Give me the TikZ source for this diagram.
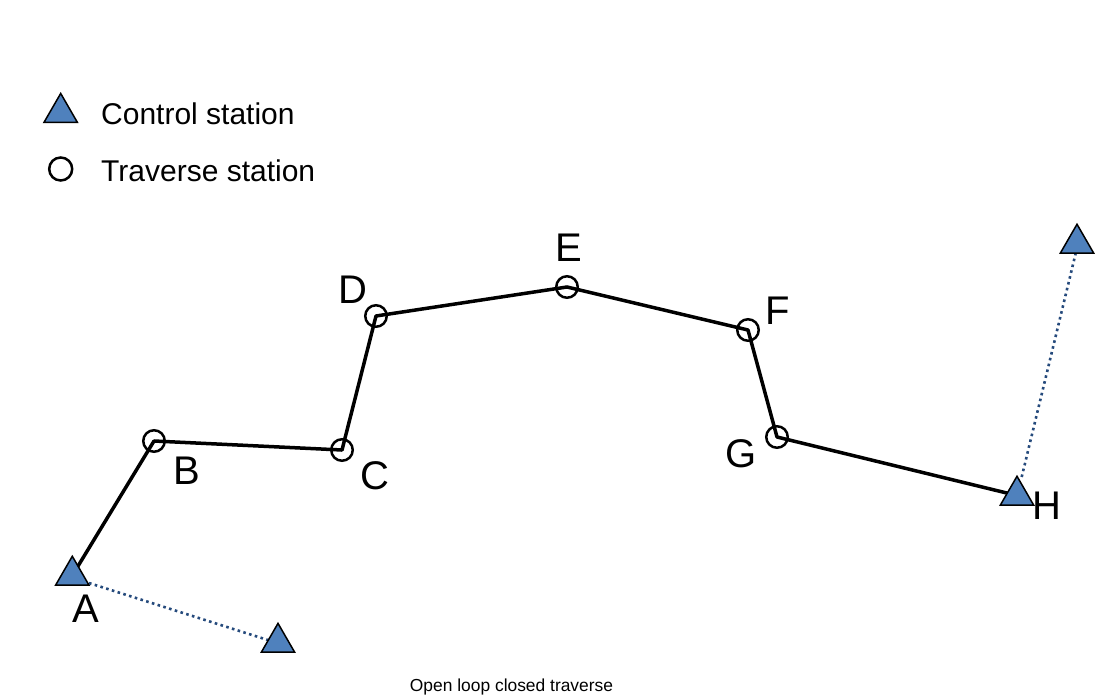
\documentclass[tikz,border=0pt]{standalone}
\usepackage{fontspec}
\setmainfont{Liberation Sans}
\usetikzlibrary{shapes.geometric}
\definecolor{triblue}{HTML}{4F81BD}
\definecolor{dotblue}{HTML}{254A7C}
\tikzset{
  control/.style={regular polygon,regular polygon sides=3,minimum size=38.5pt,inner sep=0pt,outer sep=0pt,draw=black,fill=triblue,line width=1.5pt,line join=miter},
  traverse/.style={circle,minimum size=21.5pt,inner sep=0pt,outer sep=0pt,draw=black,line width=2.5pt},
  leg/.style={line width=3.5pt,draw=black,line cap=round},
  sight/.style={draw=dotblue,line width=2.6pt,line cap=butt,dash pattern=on 2.6pt off 3.4pt},
  lab/.style={font=\fontsize{40}{44}\selectfont,anchor=base,inner sep=0pt,text=black},
  legtext/.style={font=\fontsize{30}{34}\selectfont,anchor=base west,inner sep=0pt,text=black},
  capt/.style={font=\fontsize{17.4}{20}\selectfont,anchor=base,inner sep=0pt,text=black}
}
\begin{document}
\begin{tikzpicture}[x=1pt,y=-1pt]
\useasboundingbox (0,0) rectangle (1114,698);
\coordinate (a) at (72.3,575.5);
\coordinate (b) at (154,441);
\coordinate (c) at (342,450);
\coordinate (d) at (376,316);
\coordinate (e) at (567,287);
\coordinate (f) at (748,330);
\coordinate (g) at (777,437);
\coordinate (h) at (1017,495.5);
\coordinate (aend) at (271,641);
\coordinate (tend) at (1076,252);
\coordinate (astart) at (89,583);
\coordinate (hstart) at (1021.7,477);
\draw[leg] (a) -- (b);
\draw[leg] (b) -- (c);
\draw[leg] (c) -- (d);
\draw[leg] (d) -- (e);
\draw[leg] (e) -- (f);
\draw[leg] (f) -- (g);
\draw[leg] (g) -- (h);
\draw[sight] (astart) -- (aend);
\draw[sight] (hstart) -- (tend);
\node[control] (ta) at (a) {};
\node[control] (tb) at (278,642.6) {};
\node[control] (th) at (h) {};
\node[control] (tt) at (1077,243.5) {};
\node[control] (tl) at (60.7,112.7) {};
\node[traverse] (nb) at (b) {};
\node[traverse] (nc) at (c) {};
\node[traverse] (nd) at (d) {};
\node[traverse] (ne) at (e) {};
\node[traverse] (nf) at (f) {};
\node[traverse] (ng) at (g) {};
\node[traverse,minimum size=23pt] (nl) at (60.7,169) {};
\node[legtext] (l1) at (101,124.3) {Control station};
\node[legtext] (l2) at (101,182) {Traverse station};
\node[lab] (la) at (86,622) {A};
\node[lab] (lb) at (187,484.5) {B};
\node[lab] (lc) at (375,489.5) {C};
\node[lab] (ld) at (353,303.5) {D};
\node[lab] (le) at (569,261) {E};
\node[lab] (lf) at (778,324.5) {F};
\node[lab] (lg) at (741,467) {G};
\node[lab] (lh) at (1047,519.5) {H};
\node[capt] (cap) at (511.5,691) {Open loop closed traverse};
\end{tikzpicture}
\end{document}
